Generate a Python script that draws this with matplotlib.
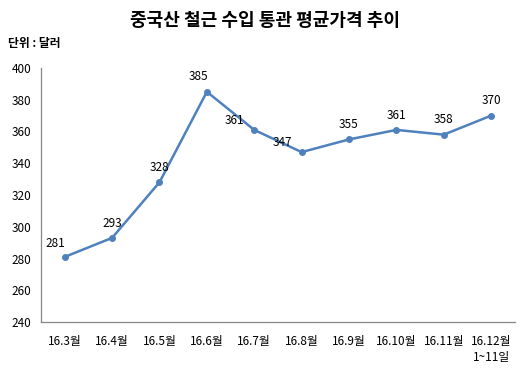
import matplotlib
matplotlib.use('Agg')
import matplotlib.pyplot as plt

plt.rcParams['font.family'] = ['Noto Sans CJK KR', 'DejaVu Sans']

# 데이터
months = ['16.3월', '16.4월', '16.5월', '16.6월', '16.7월', '16.8월',
          '16.9월', '16.10월', '16.11월', '16.12월']
prices = [281, 293, 328, 385, 361, 347, 355, 361, 358, 370]
# 라벨 위치 (포인트 기준 오프셋)
label_offsets = [(-7, 5), (0, 6), (0, 6), (-6, 6), (-14, 2), (-14, 2),
                 (0, 6), (0, 6), (0, 6), (0, 6)]

LINE_COLOR = '#4F81BD'

fig = plt.figure(figsize=(5.3, 3.8), dpi=100)
ax = fig.add_axes([0.0774, 0.1526, 0.894, 0.6685])

x = list(range(len(months)))
ax.plot(x, prices, color=LINE_COLOR, linewidth=1.8, marker='o', markersize=4)

for xi, v, (dx, dy) in zip(x, prices, label_offsets):
    ax.annotate(str(v), (xi, v), xytext=(dx, dy), textcoords='offset points',
                ha='center', va='bottom', fontsize=8.5)

ax.set_xlim(-0.5, len(months) - 0.5)
ax.set_ylim(240, 400)
ax.set_yticks(range(240, 401, 20))
ax.set_xticks(x)
ax.set_xticklabels(months)
ax.tick_params(axis='both', length=0, labelsize=8.5)
ax.tick_params(axis='x', pad=9)
ax.tick_params(axis='y', pad=7)

for side in ['top', 'right']:
    ax.spines[side].set_visible(False)
for side in ['left', 'bottom']:
    ax.spines[side].set_color('#868686')
    ax.spines[side].set_linewidth(0.9)

fig.text(0.5, 0.945, '중국산 철근 수입 통관 평균가격 추이', ha='center', va='center',
         fontsize=13, fontweight='bold')
fig.text(0.015, 0.885, '단위 : 달러', ha='left', va='center', fontsize=8.5,
         fontweight='bold')
fig.text(0.927, 0.058, '1~11일', ha='center', va='center', fontsize=8.5)

fig.savefig('out.png', dpi=100, facecolor='white')
